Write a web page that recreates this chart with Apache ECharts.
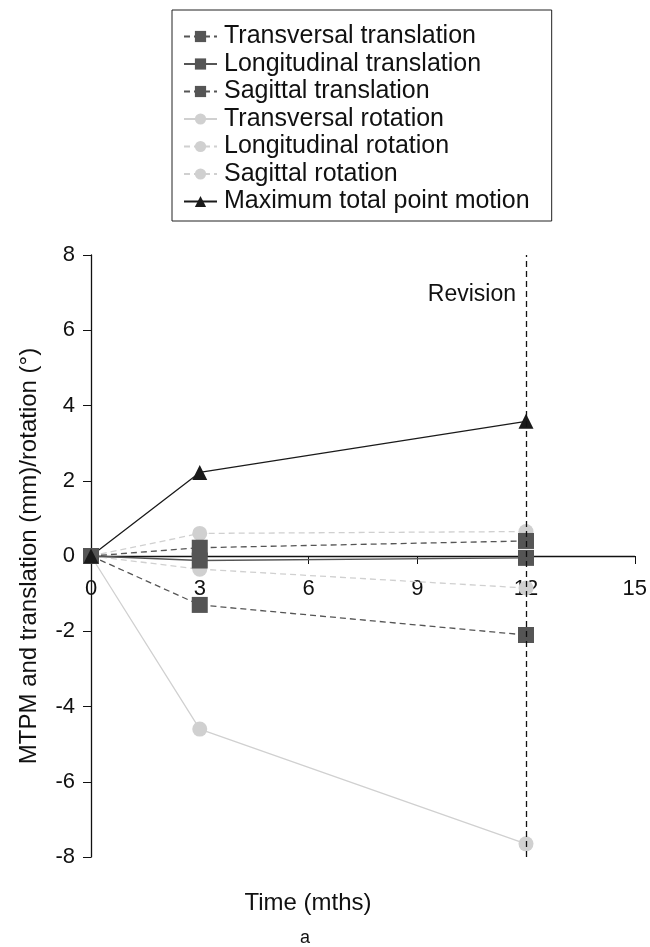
<!DOCTYPE html>
<html><head><meta charset="utf-8">
<script src="https://cdn.jsdelivr.net/npm/echarts@6/dist/echarts.min.js"></script>
<style>html,body{margin:0;padding:0;background:#fff}#c{width:650px;height:947px}</style>
</head><body><div id="c"></div>
<script>
const months = [0, 3, 12];
const transversalTranslation = [0, 0.22, 0.4];
const longitudinalTranslation = [0, -0.12, -0.05];
const sagittalTranslation = [0, -1.3, -2.1];
const transversalRotation = [0, -4.6, -7.65];
const longitudinalRotation = [0, 0.6, 0.65];
const sagittalRotation = [0, -0.35, -0.85];
const maxTotalPointMotion = [0, 2.22, 3.58];
const yTicks = [-8, -6, -4, -2, 0, 2, 4, 6, 8];
const xTicks = [0, 3, 6, 9, 12, 15];
const revisionMonth = 12;
const revisionLabelLevel = 6.95;

const FONT = 'Liberation Sans';
const dark = '#555555', light = '#d0d0d0', black = '#1a1a1a';
const Y_MIN = -8, Y_MAX = 8;
const GRID = {left:91, right:14, top:255, bottom:90};
const gridH = 947 - GRID.top - GRID.bottom;
const zeroOffset = -gridH * (0 - Y_MIN) / (Y_MAX - Y_MIN);

function pts(v){ return months.map((m,i)=>[m, v[i]]); }
function mk(name, data, color, dashed, symbol, size, extra){
  return Object.assign({
    name, type:'line', data: pts(data), symbol, symbolSize: size,
    itemStyle:{color}, lineStyle:{color, width:1.3, type: dashed ? [6,4] : 'solid'},
    emphasis:{disabled:true}, animation:false
  }, extra||{});
}
const chart = echarts.init(document.getElementById('c'), null, {renderer:'canvas'});
chart.setOption({
  animation:false,
  textStyle:{fontFamily:FONT},
  grid:Object.assign({containLabel:false}, GRID),
  legend:{
    orient:'vertical', left:172, top:10,
    padding:[14,22,7,11], itemGap:2.5, itemWidth:33, itemHeight:14,
    borderColor:'#222', borderWidth:1,
    textStyle:{fontFamily:FONT, fontSize:25, color:'#111', padding:[0,0,0,2]},
    data:['Transversal translation','Longitudinal translation','Sagittal translation','Transversal rotation','Longitudinal rotation','Sagittal rotation','Maximum total point motion']
  },
  xAxis:{type:'value', min:0, max:15, interval:3, offset: zeroOffset,
    axisLine:{onZero:false, lineStyle:{color:'#111', width:1.3}},
    axisTick:{show:true, length:8, lineStyle:{color:'#111'}},
    axisLabel:{fontFamily:FONT, fontSize:22, color:'#111', margin:22, customValues: xTicks},
    splitLine:{show:false}},
  yAxis:{type:'value', min:Y_MIN, max:Y_MAX, interval:2,
    axisLine:{show:true, onZero:false, lineStyle:{color:'#111', width:1.3}},
    axisTick:{show:true, length:8, lineStyle:{color:'#111'}},
    axisLabel:{fontFamily:FONT, fontSize:22, color:'#111', margin:16, customValues: yTicks},
    splitLine:{show:false},
    name:'MTPM and translation (mm)/rotation (°)', nameLocation:'middle', nameGap:50,
    nameTextStyle:{fontFamily:FONT, fontSize:24, color:'#111'}},
  graphic:[
    {type:'text', style:{text:'Time (mths)', fontFamily:FONT, fontSize:24, fill:'#111', x:308, y:891, textAlign:'center'}},
    {type:'text', style:{text:'a', fontFamily:FONT, fontSize:18, fill:'#111', x:305, y:929, textAlign:'center'}}
  ],
  series:[
    mk('Transversal rotation', transversalRotation, light, false, 'circle', 15),
    mk('Longitudinal rotation', longitudinalRotation, light, true, 'circle', 15),
    mk('Sagittal rotation', sagittalRotation, light, true, 'circle', 15),
    mk('Transversal translation', transversalTranslation, dark, true, 'rect', 16),
    mk('Longitudinal translation', longitudinalTranslation, dark, false, 'rect', 16),
    mk('Sagittal translation', sagittalTranslation, dark, true, 'rect', 16),
    mk('Maximum total point motion', maxTotalPointMotion, black, false, 'triangle', 15, {
      markLine:{symbol:'none', silent:true, animation:false,
        lineStyle:{color:'#111', type:[6,4], width:1.3},
        label:{show:false},
        data:[{xAxis: revisionMonth}]},
      markPoint:{silent:true, animation:false, symbol:'circle', symbolSize:0,
        label:{show:true, position:'left', distance:10, formatter:'Revision', fontFamily:FONT, fontSize:23, color:'#111'},
        data:[{coord:[revisionMonth, revisionLabelLevel]}]}
    })
  ]
});
</script></body></html>
